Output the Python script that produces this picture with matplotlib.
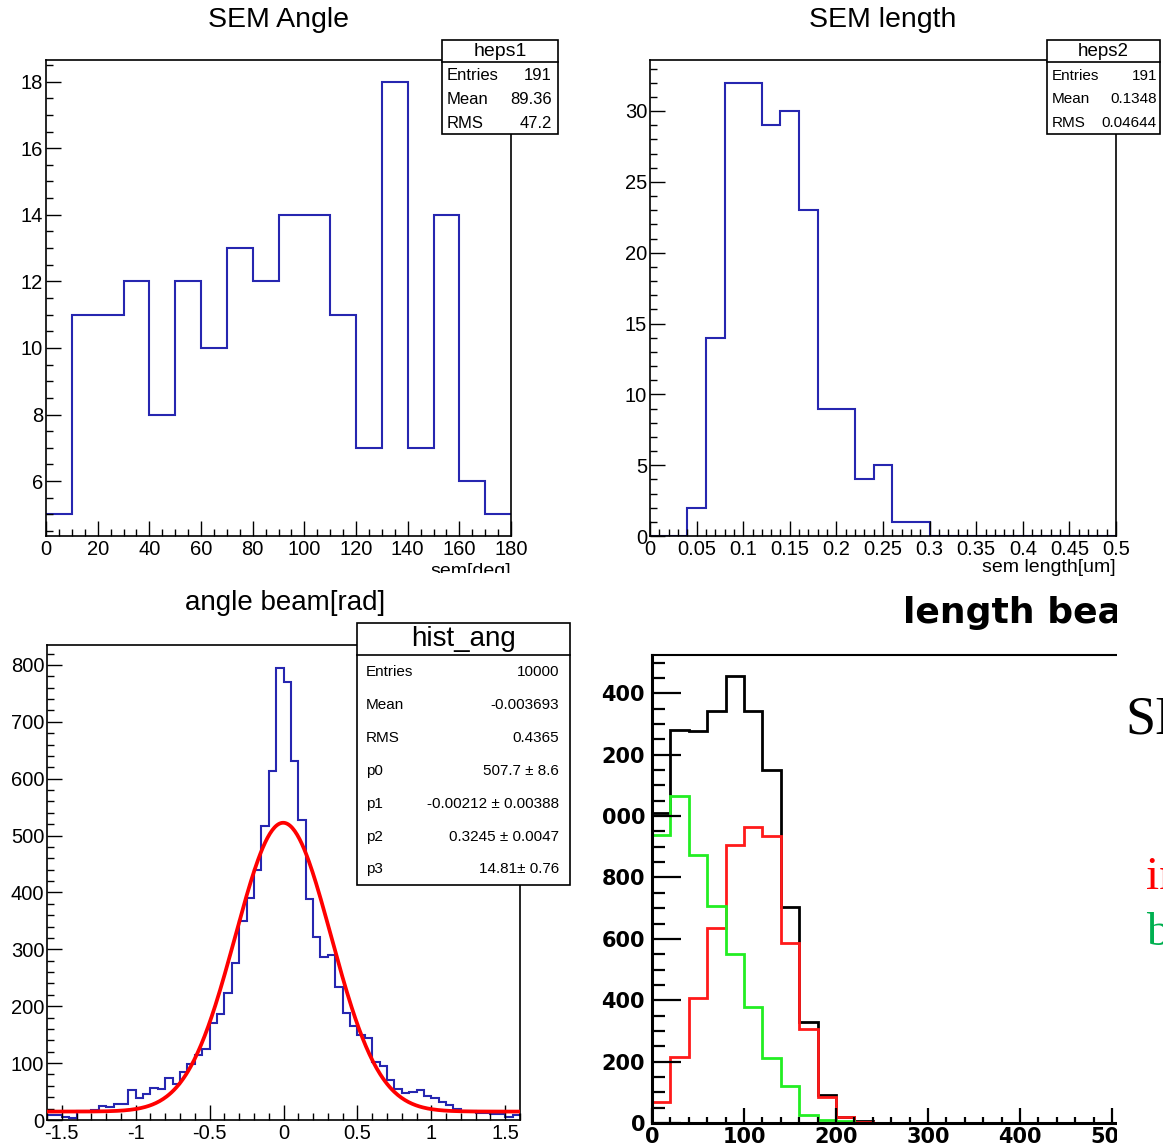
import numpy as np
import matplotlib
matplotlib.use("Agg")
import matplotlib.pyplot as plt
from matplotlib.patches import Rectangle
from matplotlib.lines import Line2D
from matplotlib.ticker import MultipleLocator, FixedLocator, FuncFormatter

# ---------------- data ----------------
sem_angle_edges = np.arange(0, 190, 10)
sem_angle_counts = [5, 11, 11, 12, 8, 12, 10, 13, 12, 14, 14, 11, 7, 18, 7, 14, 6, 5]

sem_length_edges = np.linspace(0, 0.5, 26)
sem_length_counts = [0, 0, 2, 14, 32, 32, 29, 30, 23, 9, 9, 4, 5, 1, 1,
                     0, 0, 0, 0, 0, 0, 0, 0, 0, 0]

beam_angle_edges = np.linspace(-1.6, 1.6, 65)
beam_angle_counts = [8, 8, 6, 3, 15, 16, 18, 25, 23, 28, 28, 53, 38, 45, 57, 54,
                     74, 64, 85, 99, 114, 124, 170, 187, 224, 276, 350, 390, 439, 516, 614, 795,
                     770, 631, 528, 389, 321, 287, 290, 234, 188, 165, 149, 145, 102, 95, 70, 55,
                     48, 50, 52, 42, 38, 32, 27, 20, 16, 15, 13, 12, 11, 10, 6, 9]
fit_p0, fit_p1, fit_p2, fit_p3 = 507.7, -0.00212, 0.3245, 14.81

len_edges = np.arange(0, 540, 20)
len_total = [1009, 1282, 1277, 1344, 1458, 1344, 1150, 703, 330, 90, 20, 5, 1,
             0, 0, 0, 0, 0, 0, 0, 0, 0, 0, 0, 0, 0]
len_red = [69, 216, 407, 635, 907, 963, 936, 585, 307, 84, 18, 2, 1,
           0, 0, 0, 0, 0, 0, 0, 0, 0, 0, 0, 0, 0]
len_green = [940, 1065, 872, 708, 550, 377, 213, 120, 26, 11, 5, 1, 0,
             0, 0, 0, 0, 0, 0, 0, 0, 0, 0, 0, 0, 0]
len_yticks = [0, 200, 400, 600, 800, 1000, 1200, 1400]
len_ytick_labels = ['0', '200', '400', '600', '800', '000', '200', '400']
len_xticks = [0, 100, 200, 300, 400, 500]
len_xtick_labels = ['0', '100', '200', '300', '400', '500']

heps1_rows = [('Entries', '191'), ('Mean', '89.36'), ('RMS', '47.2')]
heps2_rows = [('Entries', '191'), ('Mean', '0.1348'), ('RMS', '0.04644')]
hist_ang_rows = [('Entries', '10000'), ('Mean', '-0.003693'), ('RMS', '0.4365'),
                 ('p0', '507.7 \u00b1 8.6'), ('p1', '-0.00212 \u00b1 0.00388'),
                 ('p2', '0.3245 \u00b1 0.0047'), ('p3', '14.81\u00b1 0.76')]

# ---------------- figure ----------------
W, H = 1163, 1144
plt.rcParams['font.family'] = ['Liberation Sans', 'DejaVu Sans']
fig = plt.figure(figsize=(W / 100, H / 100), dpi=100)
BLUE = '#2626b0'


def rect(l, t, r, b):
    return [l / W, 1 - b / H, (r - l) / W, (b - t) / H]


def fx(x):
    return x / W


def fy(y):
    return 1 - y / H


gfmt = FuncFormatter(lambda v, p: '%g' % round(v, 6))


def root_style(ax, xmaj, xmin, ymaj, ymin, fs=14.5):
    for s in ax.spines.values():
        s.set_linewidth(1.2)
    ax.tick_params(which='both', direction='in', top=False, right=False,
                   labelsize=fs, width=1.0)
    ax.tick_params(which='major', length=10.5)
    ax.tick_params(which='minor', length=5)
    ax.tick_params(axis='x', pad=3)
    ax.tick_params(axis='y', pad=2)
    ax.xaxis.set_major_locator(MultipleLocator(xmaj))
    ax.xaxis.set_minor_locator(MultipleLocator(xmin))
    ax.yaxis.set_major_locator(MultipleLocator(ymaj))
    ax.yaxis.set_minor_locator(MultipleLocator(ymin))
    ax.xaxis.set_major_formatter(gfmt)
    ax.yaxis.set_major_formatter(gfmt)


def stats_box(l, t, r, b, title_b, title, rows, title_fs, row_fs, lab_x, val_x, row_ys):
    fig.add_artist(Rectangle((fx(l), fy(b)), fx(r) - fx(l), fy(t) - fy(b),
                             transform=fig.transFigure, facecolor='white',
                             edgecolor='black', lw=1.2, zorder=10))
    fig.add_artist(Line2D([fx(l), fx(r)], [fy(title_b), fy(title_b)],
                          transform=fig.transFigure, color='black', lw=1.2, zorder=11))
    fig.text(fx((l + r) / 2), fy((t + title_b) / 2), title, ha='center', va='center',
             fontsize=title_fs, zorder=12)
    for (lab, val), y in zip(rows, row_ys):
        fig.text(fx(lab_x), fy(y), lab, ha='left', va='center', fontsize=row_fs, zorder=12)
        fig.text(fx(val_x), fy(y), val, ha='right', va='center', fontsize=row_fs, zorder=12)


# ---- top-left: SEM Angle ----
ax1 = fig.add_axes(rect(46, 60, 511, 536))
ax1.stairs(sem_angle_counts, sem_angle_edges, baseline=None, color=BLUE, lw=1.5)
ax1.set_xlim(0, 180)
ax1.set_ylim(4.35, 18.65)
root_style(ax1, 20, 5, 2, 0.5)
fig.text(fx(278), fy(20), 'SEM Angle', ha='center', va='center', fontsize=20.5)
fig.text(fx(511), fy(571), 'sem[deg]', ha='right', va='center', fontsize=14)
stats_box(442, 40, 558, 134, 62, 'heps1', heps1_rows, 14, 12, 447, 552, [76, 99, 123])

# ---- top-right: SEM length ----
ax2 = fig.add_axes(rect(650, 60, 1116, 536))
ax2.stairs(sem_length_counts, sem_length_edges, baseline=None, color=BLUE, lw=1.5)
ax2.set_xlim(0, 0.5)
ax2.set_ylim(0, 33.6)
root_style(ax2, 0.05, 0.01, 5, 1)
fig.text(fx(883), fy(20), 'SEM length', ha='center', va='center', fontsize=20.5)
fig.text(fx(1116), fy(567), 'sem length[um]', ha='right', va='center', fontsize=14)
stats_box(1047, 40, 1160, 134, 62, 'heps2', heps2_rows, 13.5, 11, 1052, 1157, [76, 99, 123])

# ---- bottom-left: angle beam ----
ax3 = fig.add_axes(rect(47, 645, 520, 1120))
ax3.stairs(beam_angle_counts, beam_angle_edges, baseline=None, color=BLUE, lw=1.5)
xf = np.linspace(-1.6, 1.6, 400)
ax3.plot(xf, fit_p0 * np.exp(-0.5 * ((xf - fit_p1) / fit_p2) ** 2) + fit_p3,
         color='red', lw=2.7, zorder=5)
ax3.set_xlim(-1.6, 1.6)
ax3.set_ylim(0, 835)
root_style(ax3, 0.5, 0.1, 100, 20)
fig.text(fx(285), fy(603), 'angle beam[rad]', ha='center', va='center', fontsize=20)
stats_box(357, 623, 570, 885, 655, 'hist_ang', hist_ang_rows, 20, 11, 366, 559,
          [672, 705, 738, 771, 804, 837, 869])

# ---- bottom-right: length beam (cropped panel) ----
ax4 = fig.add_axes(rect(652, 655, 1117, 1123))
ax4.stairs(len_total, len_edges, baseline=None, color='black', lw=2.0)
ax4.stairs(len_red, len_edges, baseline=None, color='#ff1a1a', lw=2.0)
ax4.stairs(len_green, len_edges, baseline=None, color='#22ee22', lw=2.0)
ax4.set_xlim(0, 505.4)
ax4.set_ylim(0, 1525)
ax4.spines['right'].set_visible(False)
ax4.spines['left'].set_linewidth(2.2)
ax4.spines['bottom'].set_linewidth(2.2)
ax4.spines['top'].set_linewidth(1.5)
ax4.yaxis.set_major_locator(FixedLocator(len_yticks))
ax4.set_yticklabels(len_ytick_labels)
ax4.yaxis.set_minor_locator(MultipleLocator(50))
ax4.xaxis.set_major_locator(FixedLocator(len_xticks))
ax4.set_xticklabels(len_xtick_labels)
ax4.xaxis.set_minor_locator(MultipleLocator(20))
ax4.tick_params(which='both', direction='in', top=False, right=False, width=1.6)
ax4.tick_params(axis='y', which='major', length=21, pad=5)
ax4.tick_params(axis='y', which='minor', length=9.5)
ax4.tick_params(axis='x', which='major', length=10.5, pad=3)
ax4.tick_params(axis='x', which='minor', length=4.6)
for lab in ax4.get_xticklabels() + ax4.get_yticklabels():
    lab.set_fontfamily('DejaVu Sans')
    lab.set_fontweight('bold')
    lab.set_fontsize(15)
fig.text(fx(903), fy(613), 'length beam', ha='left', va='center', fontsize=26,
         fontweight='bold', family='DejaVu Sans', zorder=3)

# ---- crop emulation ----
fig.add_artist(Rectangle((fx(0), fy(588)), fx(585), fy(573) - fy(588),
                         transform=fig.transFigure, facecolor='white', edgecolor='none',
                         zorder=8))
fig.add_artist(Rectangle((fx(1117), fy(1144)), fx(W) - fx(1117), fy(585) - fy(1144),
                         transform=fig.transFigure, facecolor='white', edgecolor='none',
                         zorder=8))

# ---- partial slide text on the right ----
fig.text(fx(1125), fy(720), 'SE', ha='left', va='center', fontsize=39,
         family='Liberation Serif', color='black', zorder=20)
fig.text(fx(1146), fy(878), 'in', ha='left', va='center', fontsize=34,
         family='Liberation Serif', color='#ff0000', zorder=20)
fig.text(fx(1146), fy(934), 'b', ha='left', va='center', fontsize=34,
         family='Liberation Serif', color='#00b050', zorder=20)

fig.savefig('out.png', dpi=100)
